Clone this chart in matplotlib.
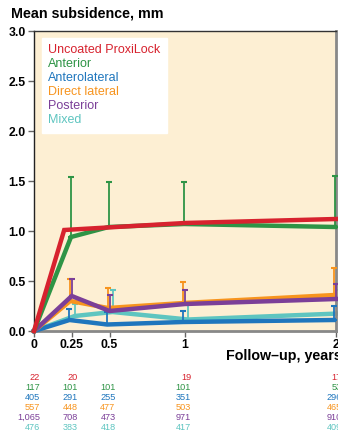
import numpy as np
import matplotlib.pyplot as plt
from matplotlib.lines import Line2D

plt.rcParams['font.family'] = ['Liberation Sans', 'DejaVu Sans']

# Data (mean subsidence, mm)
years = [0, 0.25, 0.5, 1, 2]
xticklabels = ['0', '0.25', '0.5', '1', '2']

names = ['Uncoated ProxiLock', 'Anterior', 'Anterolateral', 'Direct lateral', 'Posterior', 'Mixed']
colors = ['#d7222e', '#2e9446', '#1f76bd', '#f7941e', '#7b3f98', '#5ec5c0']

red_x = [0, 0.2, 1, 2]
red_y = [0, 1.01, 1.08, 1.12]

anterior = [0, 0.94, 1.04, 1.07, 1.04]
anterior_top = [0, 1.545, 1.49, 1.49, 1.555]
anterolateral = [0, 0.11, 0.065, 0.09, 0.11]
anterolateral_top = [0, 0.22, 0.19, 0.205, 0.25]
direct_lateral = [0, 0.30, 0.23, 0.28, 0.36]
direct_lateral_top = [0, 0.52, 0.43, 0.495, 0.635]
posterior = [0, 0.35, 0.20, 0.27, 0.32]
posterior_top = [0, 0.52, 0.36, 0.415, 0.47]
mixed = [0, 0.15, 0.19, 0.115, 0.175]
mixed_top = [0, 0.275, 0.415, 0.29, 0.415]

# patients at each follow-up
n_red = ['22', '20', '', '19', '17']
n_anterior = ['117', '101', '101', '101', '53']
n_anterolateral = ['405', '291', '255', '351', '296']
n_direct = ['557', '448', '477', '503', '465']
n_posterior = ['1,065', '708', '473', '971', '910']
n_mixed = ['476', '383', '418', '417', '409']

fig = plt.figure(figsize=(3.38, 4.33), dpi=100)
ax = fig.add_axes([34 / 338, 102 / 433, 302 / 338, 300 / 433])
ax.set_facecolor('#fdefd3')

# small horizontal dodge per series
series = [
    (anterior, anterior_top, colors[1], -0.005, 6),
    (anterolateral, anterolateral_top, colors[2], -0.015, 3),
    (direct_lateral, direct_lateral_top, colors[3], -0.01, 4),
    (posterior, posterior_top, colors[4], 0.0, 5),
    (mixed, mixed_top, colors[5], 0.02, 2),
]
for vals, tops, c, dx, z in series:
    x = np.array(years, dtype=float) + dx
    x[0] = 0
    vals = np.array(vals)
    up = np.array(tops) - vals
    ax.errorbar(x[1:], vals[1:], yerr=[np.zeros(4), up[1:]], fmt='none', ecolor=c,
                elinewidth=1.3, capsize=2.5, capthick=1.5, zorder=z, clip_on=False)
    ax.plot(x, vals, color=c, lw=3.2, zorder=z + 0.5, clip_on=False, solid_joinstyle='miter')

ax.plot(red_x, red_y, color=colors[0], lw=3.2, zorder=8, clip_on=False, solid_joinstyle='miter')

ax.set_xlim(0, 2)
ax.set_ylim(0, 3)
ax.set_xticks(years)
ax.set_xticklabels(xticklabels)
ax.set_yticks(np.arange(0, 3.01, 0.5))
ax.set_yticklabels(['%.1f' % v for v in np.arange(0, 3.01, 0.5)])
ax.tick_params(axis='both', labelsize=8.8, length=4, width=1, color='#666666', pad=2)
for lab in ax.get_xticklabels() + ax.get_yticklabels():
    lab.set_fontweight('bold')

ax.spines['left'].set_color('#222222')
ax.spines['left'].set_linewidth(1)
ax.spines['top'].set_color('#333333')
ax.spines['top'].set_linewidth(1)
ax.spines['bottom'].set_color('#888888')
ax.spines['bottom'].set_linewidth(2)
ax.spines['right'].set_color('#888888')
ax.spines['right'].set_linewidth(2)

handles = [Line2D([], [], color=c, lw=0) for c in colors]
leg = ax.legend(handles, names, loc='upper left', bbox_to_anchor=(0.027, 0.978),
                handlelength=0, handletextpad=0, labelcolor=colors, fontsize=9,
                frameon=True, fancybox=False, borderaxespad=0, borderpad=0.5,
                labelspacing=0.17)
leg.get_frame().set_facecolor('white')
leg.get_frame().set_edgecolor('white')
leg.get_frame().set_alpha(1)

fig.text(11 / 338, 1 - 14 / 433, 'Mean subsidence, mm', fontsize=10.3, fontweight='bold',
         va='center', ha='left')
fig.text(226 / 338, 1 - 356 / 433, 'Follow\u2013up, years', fontsize=10.3,
         fontweight='bold', va='center', ha='left')

rows = [n_red, n_anterior, n_anterolateral, n_direct, n_posterior, n_mixed]
for i, (row, c) in enumerate(zip(rows, colors)):
    ypix = 377 + i * 10
    for xv, t in zip(years, row):
        ax.annotate(t, xy=(xv + 0.04, 1 - ypix / 433), xycoords=('data', 'figure fraction'),
                    ha='right', va='center', fontsize=6.6, color=c, annotation_clip=False)

plt.savefig('out.png', dpi=100)
